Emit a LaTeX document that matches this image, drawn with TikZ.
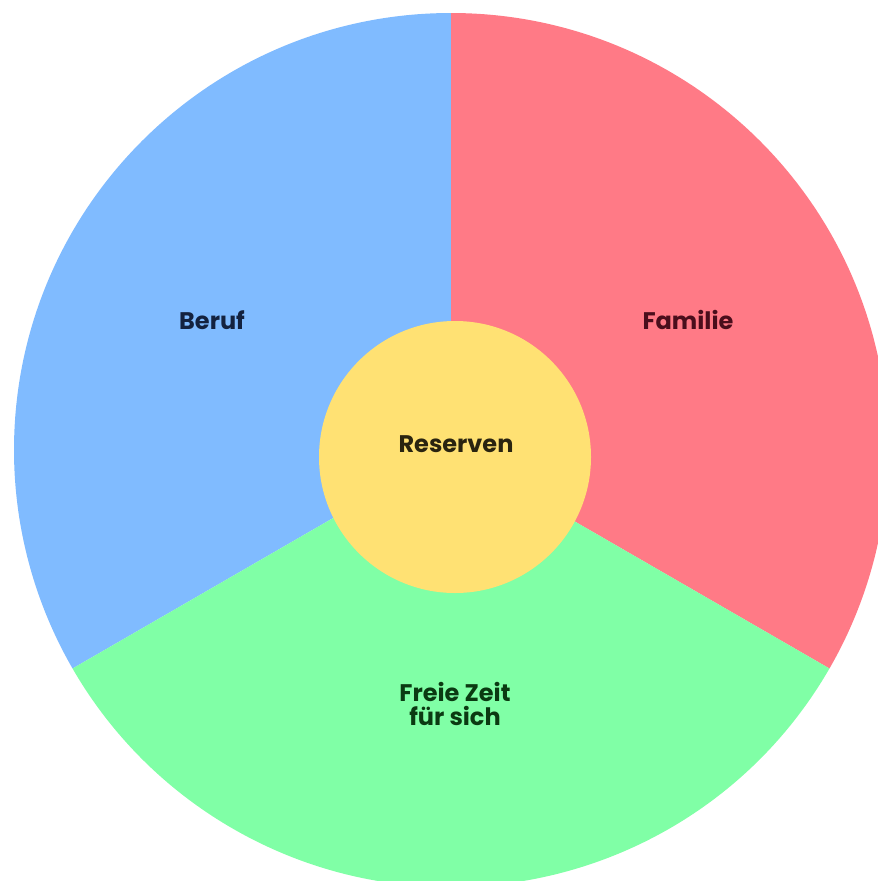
\documentclass[tikz,border=0pt]{standalone}
\usepackage{fontspec}
\setmainfont{Poppins}
\definecolor{cblue}{HTML}{80BBFF}
\definecolor{cred}{HTML}{FF7A86}
\definecolor{cgreen}{HTML}{80FFA6}
\definecolor{cyellow}{HTML}{FFE173}
\definecolor{tblue}{HTML}{14223F}
\definecolor{tred}{HTML}{4A0E1C}
\definecolor{tgreen}{HTML}{0B3A12}
\definecolor{tyel}{HTML}{2A2410}
\begin{document}
\begin{tikzpicture}[x=1pt,y=-1pt,
  lbl/.style={font=\fontsize{24}{24}\selectfont\bfseries, align=center, inner sep=0pt}]
\useasboundingbox (0,0) rectangle (878,881);
\coordinate (c) at (451,450);
\def\R{437}
\fill[cblue] (c) -- ++(90:-\R) arc[start angle=-90, end angle=-210, radius=\R] -- cycle;
\fill[cred] (c) -- ++(90:-\R) arc[start angle=-90, end angle=30, radius=\R] -- cycle;
\fill[cgreen] (c) -- ++(30:\R) arc[start angle=30, end angle=150, radius=\R] -- cycle;
\fill[cyellow] (455,457) circle[radius=136];
\node[lbl, text=tblue] (beruf) at (212,320) {Beruf};
\node[lbl, text=tred] (familie) at (688,320) {Familie};
\node[lbl, text=tyel] (reserven) at (456,444) {Reserven};
\node[lbl, text=tgreen] (freie) at (455,704) {Freie Zeit\\für sich};
\end{tikzpicture}
\end{document}
